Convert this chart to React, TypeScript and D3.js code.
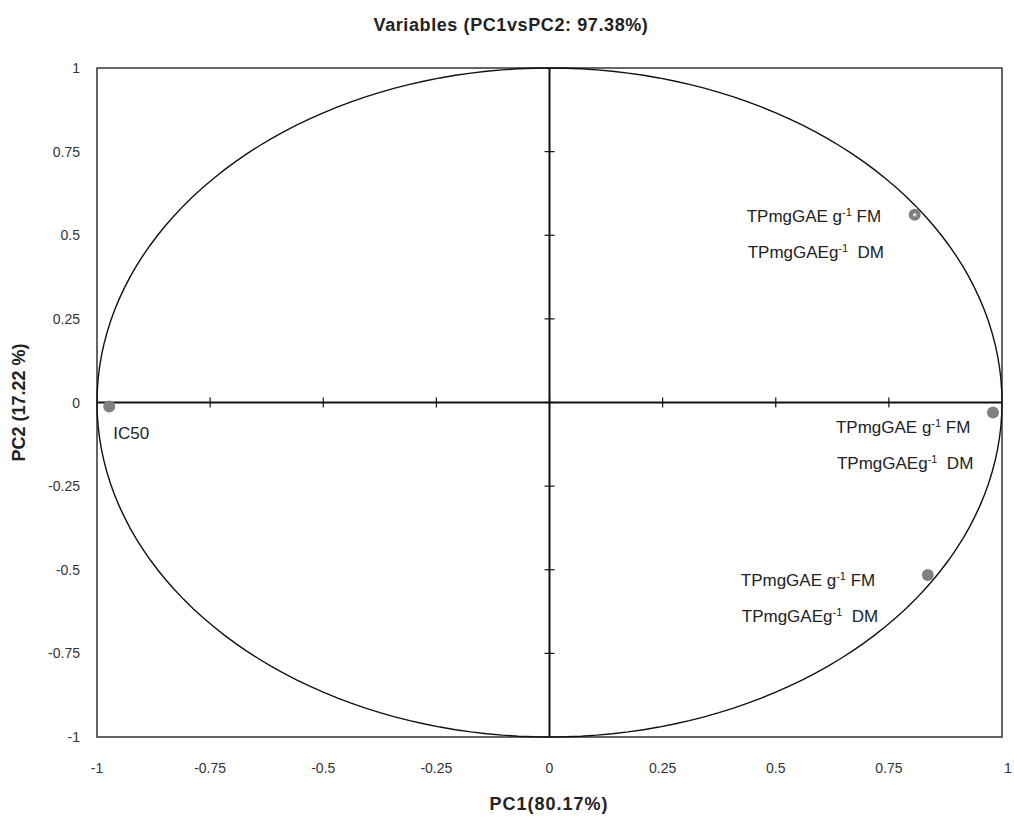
import React, { useEffect, useRef } from 'react';
import * as d3 from 'd3';

// PCA variable loadings (PC1, PC2)
const pointNames = ['IC50', 'TP FM/DM a', 'TP FM/DM b', 'TP FM/DM c'];
const pc1Values = [-0.973, 0.807, 0.98, 0.836];
const pc2Values = [-0.012, 0.561, -0.03, -0.516];
const tickValues = [-1, -0.75, -0.5, -0.25, 0, 0.25, 0.5, 0.75, 1];
const tickLabels = ['-1', '-0.75', '-0.5', '-0.25', '0', '0.25', '0.5', '0.75', '1'];

const W = 1014;
const H = 819;
const font = '"Liberation Sans", Arial, sans-serif';

function App() {
  const svgRef = useRef<SVGSVGElement>(null);

  useEffect(() => {
    const svg = d3.select(svgRef.current);
    svg.selectAll('*').remove();

    const x = d3.scaleLinear().domain([-1, 1]).range([97, 1002]);
    const y = d3.scaleLinear().domain([-1, 1]).range([737, 68]);

    // title
    svg.append('text')
      .attr('x', 511).attr('y', 31)
      .attr('text-anchor', 'middle')
      .attr('font-family', font).attr('font-weight', 'bold').attr('font-size', 18)
      .attr('letter-spacing', 0.6)
      .attr('fill', '#222')
      .text('Variables (PC1vsPC2: 97.38%)');

    // frame
    svg.append('rect')
      .attr('x', x(-1)).attr('y', y(1))
      .attr('width', x(1) - x(-1)).attr('height', y(-1) - y(1))
      .attr('fill', 'none').attr('stroke', '#333').attr('stroke-width', 1.5);

    // unit circle
    const angles = d3.range(0, 361, 2).map(a => (a * Math.PI) / 180);
    const line = d3.line<number>()
      .x(a => x(Math.cos(a)))
      .y(a => y(Math.sin(a)));
    svg.append('path')
      .attr('d', line(angles) as string)
      .attr('fill', 'none').attr('stroke', '#111').attr('stroke-width', 1.4);

    // zero axes
    svg.append('line')
      .attr('x1', x(-1)).attr('x2', x(1)).attr('y1', y(0)).attr('y2', y(0))
      .attr('stroke', '#111').attr('stroke-width', 2);
    svg.append('line')
      .attr('x1', x(0)).attr('x2', x(0)).attr('y1', y(1)).attr('y2', y(-1))
      .attr('stroke', '#111').attr('stroke-width', 2);

    // crossing ticks
    tickValues.forEach(t => {
      if (t === -1 || t === 1) return;
      svg.append('line')
        .attr('x1', x(t)).attr('x2', x(t)).attr('y1', y(0) - 5).attr('y2', y(0) + 5)
        .attr('stroke', '#111').attr('stroke-width', 1.2);
      svg.append('line')
        .attr('x1', x(0) - 5).attr('x2', x(0) + 5).attr('y1', y(t)).attr('y2', y(t))
        .attr('stroke', '#111').attr('stroke-width', 1.2);
    });

    // tick labels
    tickValues.forEach((t, i) => {
      svg.append('text')
        .attr('x', x(t) + (t === 1 ? 6 : 0)).attr('y', 773)
        .attr('text-anchor', 'middle')
        .attr('font-family', font).attr('font-size', 14).attr('fill', '#333')
        .text(tickLabels[i]);
      svg.append('text')
        .attr('x', 80).attr('y', y(t) + 5)
        .attr('text-anchor', 'end')
        .attr('font-family', font).attr('font-size', 14).attr('fill', '#333')
        .text(tickLabels[i]);
    });

    // axis titles
    svg.append('text')
      .attr('x', 549).attr('y', 810)
      .attr('text-anchor', 'middle')
      .attr('font-family', font).attr('font-weight', 'bold').attr('font-size', 18)
      .attr('letter-spacing', 1)
      .attr('fill', '#222')
      .text('PC1(80.17%)');
    svg.append('text')
      .attr('transform', `translate(25, ${y(0)}) rotate(-90)`)
      .attr('text-anchor', 'middle')
      .attr('font-family', font).attr('font-weight', 'bold').attr('font-size', 18)
      .attr('fill', '#222')
      .text('PC2 (17.22 %)');

    // points
    pointNames.forEach((_, i) => {
      svg.append('circle')
        .attr('cx', x(pc1Values[i])).attr('cy', y(pc2Values[i]))
        .attr('r', 6).attr('fill', '#808080');
    });
    svg.append('circle')
      .attr('cx', x(pc1Values[1])).attr('cy', y(pc2Values[1]))
      .attr('r', 1.8).attr('fill', '#ddd');

    // labels
    svg.append('text')
      .attr('x', x(pc1Values[0]) + 4).attr('y', y(pc2Values[0]) + 32)
      .attr('font-family', font).attr('font-size', 17).attr('fill', '#222')
      .text('IC50');

    const labelOffsets = [
      [0, 0],
      [-168, 7],
      [-157, 20],
      [-187, 11],
    ];
    [1, 2, 3].forEach(i => {
      const lx = x(pc1Values[i]) + labelOffsets[i][0];
      const ly = y(pc2Values[i]) + labelOffsets[i][1];
      const t1 = svg.append('text')
        .attr('x', lx).attr('y', ly)
        .attr('font-family', font).attr('font-size', 17).attr('fill', '#222');
      t1.append('tspan').text('TPmgGAE g');
      t1.append('tspan').attr('dy', -6).attr('font-size', 11).text('-1');
      t1.append('tspan').attr('dy', 6).text(' FM');
      const t2 = svg.append('text')
        .attr('x', lx + 1).attr('y', ly + 36)
        .attr('font-family', font).attr('font-size', 17).attr('fill', '#222');
      t2.append('tspan').text('TPmgGAEg');
      t2.append('tspan').attr('dy', -6).attr('font-size', 11).text('-1');
      t2.append('tspan').attr('dy', 6).text('\u00a0 DM');
    });
  }, []);

  return (
    <svg
      ref={svgRef}
      width={W}
      height={H}
      style={{ position: 'absolute', left: 0, top: 0, background: '#fff' }}
    />
  );
}

export default App;
